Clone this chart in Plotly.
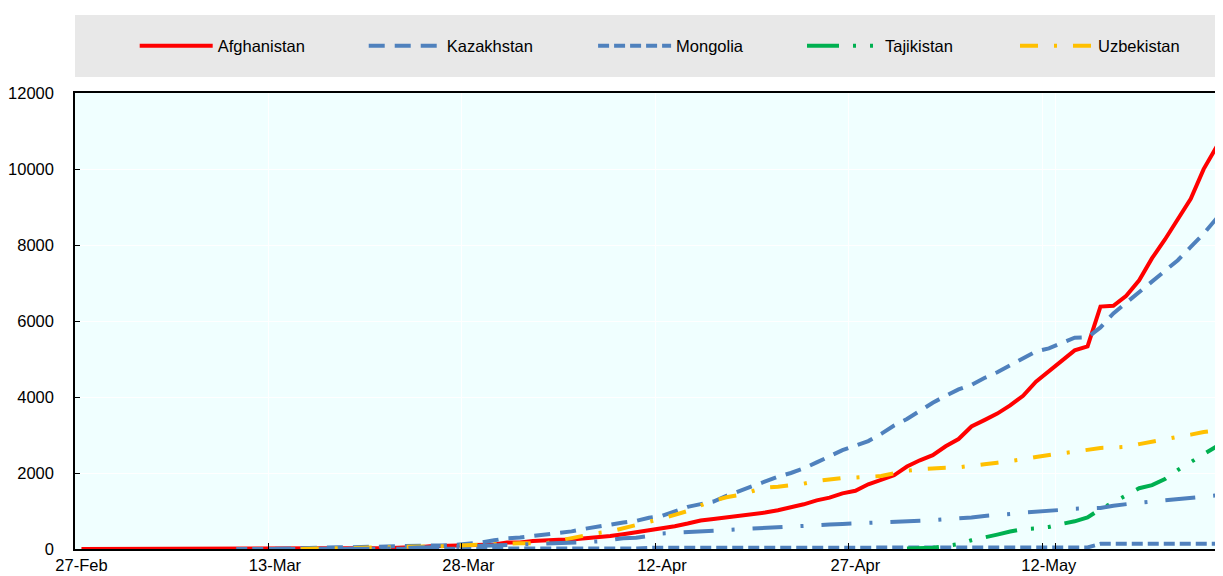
import pandas as pd
import plotly.graph_objects as go

# ---- categories: one per day, 27-Feb ... 26-May (2020) ----
dates = pd.date_range("2020-02-27", periods=90, freq="D")
day_labels = [f"{d.day}-{d.strftime('%b')}" for d in dates]
tick_labels = ["27-Feb", "13-Mar", "28-Mar", "12-Apr", "27-Apr", "12-May"]
y_ticks = [0, 2000, 4000, 6000, 8000, 10000, 12000]

N = None
afghanistan = [1, 1, 1, 1, 1, 1, 1, 1, 1, 1,
               1, 4, 4, 5, 7, 7, 7, 11, 16, 16,
               21, 22, 22, 24, 24, 40, 40, 74, 84, 94,
               110, 110, 120, 170, 174, 210, 235, 245, 250, 280,
               300, 340, 390, 440, 490, 540, 600, 670, 750, 790,
               830, 860, 900, 960, 1020, 1092, 1176, 1279, 1351, 1463,
               1531, 1703, 1828, 1939, 2171, 2335, 2469, 2704, 2894, 3224,
               3392, 3563, 3778, 4033, 4402, 4687, 4963, 5226, 5330, 6380,
               6402, 6664, 7072, 7653, 8145, 8676, 9216, 9998, 10582, 11173]
kazakhstan = [N] * 15 + [6, 9, 10, 33, 35, 44, 49, 53, 59, 60,
                         62, 72, 81, 95, 110, 130, 170, 228, 284, 302,
                         343, 380, 435, 464, 531, 584, 662, 697, 740, 820,
                         870, 990, 1110, 1180, 1250, 1400, 1530, 1640, 1770, 1900,
                         2000, 2120, 2280, 2450, 2600, 2720, 2840, 3030, 3250, 3420,
                         3650, 3850, 4030, 4200, 4320, 4500, 4650, 4830, 5000, 5200,
                         5280, 5420, 5560, 5570, 5830, 6200, 6480, 6780, 7060, 7320,
                         7600, 7950, 8300, 8700, 9050]
mongolia = [N] * 12 + [1, 1, 1, 1, 4, 6, 6, 6, 6, 10,
                       10, 10, 10, 10, 10, 11, 12, 12, 12, 12,
                       14, 14, 14, 14, 14, 15, 15, 15, 16, 16,
                       16, 16, 30, 30, 31, 31, 32, 33, 34, 35,
                       35, 35, 36, 36, 37, 38, 38, 38, 39, 39,
                       40, 41, 41, 41, 41, 42, 42, 42, 42, 42,
                       42, 42, 42, 42, 42, 42, 42, 135, 136, 136,
                       137, 137, 140, 140, 141, 141, 141, 141]
tajikistan = [N] * 64 + [15, 15, 32, 76, 128, 230, 293, 379, 461, 522,
                         540, 580, 661, 729, 830, 1050, 1230, 1420, 1600, 1680,
                         1840, 2080, 2280, 2480, 2700, 3000]
uzbekistan = [N] * 17 + [1, 6, 10, 15, 23, 33, 43, 43, 46, 50,
                         60, 75, 88, 104, 120, 130, 140, 150, 155, 150,
                         220, 290, 370, 420, 460, 540, 620, 720, 800, 900,
                         1000, 1150, 1270, 1360, 1420, 1520, 1620, 1640, 1680, 1720,
                         1790, 1840, 1870, 1880, 1890, 1920, 1990, 2060, 2100, 2130,
                         2140, 2150, 2180, 2230, 2270, 2310, 2360, 2420, 2480, 2520,
                         2560, 2610, 2660, 2670, 2690, 2760, 2830, 2890, 2950, 3010,
                         3080, 3120, 3160]
kyrgyzstan = [N] * 20 + [3, 3, 6, 14, 14, 16, 42, 44, 44, 58,
                         58, 84, 94, 107, 111, 116, 130, 144, 147, 180,
                         200, 250, 280, 298, 339, 410, 430, 440, 449, 466,
                         489, 506, 535, 554, 568, 590, 612, 631, 645, 661,
                         671, 682, 695, 708, 716, 746, 758, 778, 795, 830,
                         870, 890, 920, 960, 980, 985, 1030, 1060, 1070, 1080,
                         1140, 1190, 1220, 1250, 1280, 1300, 1330, 1370, 1410, 1450]

# name, values, colour, dash, legend id (None = not in visible legend), legend x
series = [
    ("Afghanistan", afghanistan, "#FF0000", "solid", "legend", 0.0520),
    ("Kazakhstan", kazakhstan, "#4F81BD", "16px,10px", "legend2", 0.2515),
    ("Mongolia", mongolia, "#4F81BD", "11px,5px", "legend3", 0.4513),
    ("Tajikistan", tajikistan, "#00B050", "32px,14px,3px,14px,3px,14px", "legend4", 0.6333),
    ("Uzbekistan", uzbekistan, "#FFC000", "18px,16px,3px,16px", "legend5", 0.8188),
    ("Kyrgyzstan", kyrgyzstan, "#4F81BD", "30px,18px,3px,18px", None, None),
]

FONT = "Liberation Sans, Arial, sans-serif"
FS = 16.5

fig = go.Figure()
legends = {}
for name, vals, color, dash, leg, lx in series:
    fig.add_trace(go.Scatter(
        x=day_labels, y=vals, name=name, mode="lines",
        showlegend=leg is not None, legend=leg if leg else "legend",
        line=dict(color=color, width=4, dash=dash), connectgaps=False,
    ))
    if leg:
        legends[leg] = dict(
            orientation="h", x=lx, xanchor="left", y=1.103, yanchor="middle",
            bgcolor="rgba(0,0,0,0)", itemwidth=73,
            font=dict(family=FONT, size=FS, color="#000000"),
        )

# page body keeps the browser's default 8px margin, so the figure is sized to fit
fig.update_layout(
    width=1215, height=568,
    margin=dict(l=67, r=0, t=85, b=27, autoexpand=False),
    paper_bgcolor="white",
    plot_bgcolor="#F0FFFF",
    font=dict(family=FONT, size=FS, color="#000000"),
    shapes=[dict(type="rect", xref="paper", yref="paper", x0=0, x1=1.02,
                 y0=1.035, y1=1.171, fillcolor="#E8E8E8", line=dict(width=0),
                 layer="below")],
    **legends,
)
fig.update_xaxes(
    type="category", categoryorder="array", categoryarray=day_labels,
    range=[-0.5, 88.5], tickmode="array", tickvals=tick_labels, ticktext=tick_labels,
    tickson="boundaries", ticks="inside", ticklen=6, tickcolor="black", tickangle=0,
    showgrid=True, gridcolor="white", gridwidth=1,
    showline=True, linecolor="black", linewidth=1.5, mirror=True,
    tickfont=dict(family=FONT, size=FS, color="#000000"),
)
fig.update_yaxes(
    range=[0, 12000], tickmode="array", tickvals=y_ticks, tickformat="d",
    ticks="inside", ticklen=5, tickcolor="black",
    showgrid=True, gridcolor="white", gridwidth=1, zeroline=False,
    showline=True, linecolor="black", linewidth=1.5,
    ticklabelstandoff=16,
    tickfont=dict(family=FONT, size=FS, color="#000000"),
)

fig.write_html("out.html")
